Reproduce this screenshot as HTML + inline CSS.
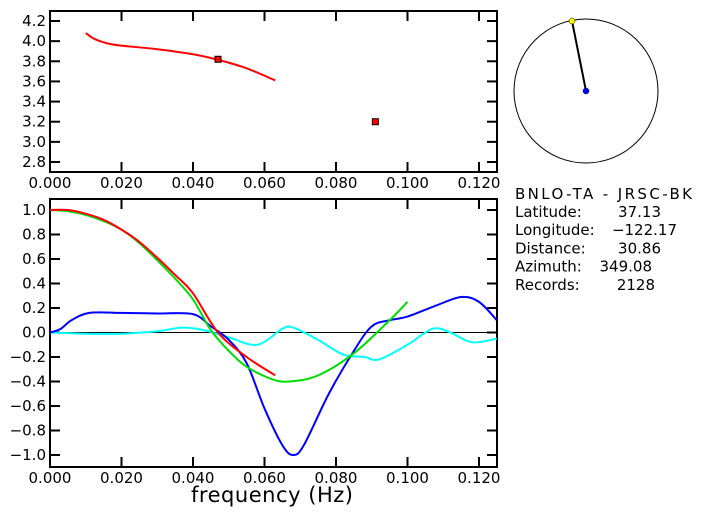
<!DOCTYPE html>
<html><head><meta charset="utf-8"><style>
body{margin:0;background:#fff;width:703px;height:519px;overflow:hidden}
svg{font-family:"DejaVu Sans","Liberation Sans",sans-serif}
</style></head><body>
<svg id="c" width="703" height="519"></svg>
<script>
const xTicks=[0,0.02,0.04,0.06,0.08,0.10,0.12];
const xTickLabels=["0.000","0.020","0.040","0.060","0.080","0.100","0.120"];
const topYTicks=[2.8,3.0,3.2,3.4,3.6,3.8,4.0,4.2];
const botYTicks=[-1.0,-0.8,-0.6,-0.4,-0.2,0.0,0.2,0.4,0.6,0.8,1.0];
const topRedX=[0.010,0.012,0.014,0.017,0.020,0.030,0.040,0.047,0.055,0.063];
const topRedY=[4.08,4.03,4.00,3.97,3.955,3.92,3.87,3.815,3.73,3.61];
const topPointsX=[0.047,0.091];
const topPointsY=[3.82,3.20];
const redX=[0,0.005,0.010,0.015,0.020,0.025,0.030,0.035,0.040,0.047,0.055,0.063];
const redY=[1.0,1.0,0.97,0.92,0.84,0.74,0.61,0.47,0.32,0.0,-0.2,-0.35];
const greenX=[0,0.005,0.010,0.015,0.020,0.025,0.030,0.035,0.040,0.045,0.050,0.055,0.062,0.067,0.075,0.085,0.095,0.100];
const greenY=[1.0,0.99,0.96,0.91,0.84,0.73,0.59,0.44,0.27,0.02,-0.15,-0.28,-0.38,-0.40,-0.35,-0.17,0.1,0.25];
const blueX=[0,0.003,0.006,0.011,0.020,0.030,0.040,0.045,0.050,0.055,0.060,0.065,0.068,0.071,0.078,0.085,0.090,0.095,0.100,0.108,0.115,0.120,0.125];
const blueY=[0,0.03,0.1,0.16,0.16,0.155,0.15,0.05,-0.06,-0.25,-0.62,-0.92,-1.0,-0.92,-0.5,-0.15,0.05,0.1,0.13,0.22,0.29,0.25,0.1];
const cyanX=[0,0.010,0.020,0.030,0.037,0.043,0.050,0.058,0.065,0.068,0.075,0.082,0.088,0.092,0.100,0.107,0.112,0.118,0.125];
const cyanY=[0,-0.01,-0.01,0.01,0.04,0.02,-0.04,-0.1,0.03,0.04,-0.06,-0.18,-0.2,-0.22,-0.1,0.03,0.0,-0.08,-0.05];
const infoLabels=["Latitude:","Longitude:","Distance:","Azimuth:","Records:"];
const infoValues=["37.13","\u2212122.17","30.86","349.08","2128"];

const NS="http://www.w3.org/2000/svg",svg=document.getElementById('c');
function el(t,a,p){const e=document.createElementNS(NS,t);for(const k in a)e.setAttribute(k,a[k]);(p||svg).appendChild(e);return e;}
const L=50,R=497;
const xs=v=>L+v/0.02*71.5;
const ysT=v=>21+(4.2-v)/1.4*141;
const ysB=v=>210+(1.0-v)*122.5;
function path(X,Y,ys){const p=X.map((x,i)=>[xs(x),ys(Y[i])]);let d="M"+p[0][0]+","+p[0][1];
for(let i=0;i<p.length-1;i++){const p0=p[i-1]||p[i],p1=p[i],p2=p[i+1],p3=p[i+2]||p2;
d+=` C${p1[0]+(p2[0]-p0[0])/6},${p1[1]+(p2[1]-p0[1])/6} ${p2[0]-(p3[0]-p1[0])/6},${p2[1]-(p3[1]-p1[1])/6} ${p2[0]},${p2[1]}`;}return d;}
function axes(top,bot,yt,ys,name,fmt){
 const g=el('g',{});
 el('rect',{x:L,y:top,width:R-L,height:bot-top,fill:'none',stroke:'#000','stroke-width':2},g);
 xTicks.forEach((t,i)=>{const x=xs(t);el('line',{x1:x,x2:x,y1:top,y2:top+10,stroke:'#000','stroke-width':2},g);el('line',{x1:x,x2:x,y1:bot,y2:bot-10,stroke:'#000','stroke-width':2},g);
  const tx=el('text',{x:x,y:bot+16,'text-anchor':'middle','font-size':15},g);tx.textContent=xTickLabels[i];});
 yt.forEach(t=>{const y=ys(t);el('line',{x1:L,x2:L+10,y1:y,y2:y,stroke:'#000','stroke-width':2},g);el('line',{x1:R,x2:R-10,y1:y,y2:y,stroke:'#000','stroke-width':2},g);
  const tx=el('text',{x:L-4,y:y+5,'text-anchor':'end','font-size':15},g);tx.textContent=fmt(t);});
 return g;}
axes(11,172,topYTicks,ysT,'top-axes',t=>t.toFixed(1));
axes(199,467,botYTicks,ysB,'bottom-axes',t=>(t<0?"\u2212":"")+Math.abs(t).toFixed(1));
let z=el('line',{x1:L,x2:R,y1:ysB(0),y2:ysB(0),stroke:'#000','stroke-width':1});

let e=el('path',{d:path(topRedX,topRedY,ysT),fill:'none',stroke:'#f00','stroke-width':2});

topPointsX.forEach((x,i)=>{const p=el('rect',{x:xs(x)-3,y:ysT(topPointsY[i])-3,width:6,height:6,fill:'#f00',stroke:'#000','stroke-width':1});
});
[[cyanX,cyanY,'#0ff','cyan-curve'],[blueX,blueY,'#00f','blue-curve'],[greenX,greenY,'#0d0','green-curve'],[redX,redY,'#f00','red-curve']].forEach(s=>{
 const p=el('path',{d:path(s[0],s[1],ysB),fill:'none',stroke:s[2],'stroke-width':2});
 });
let t=el('text',{x:272,y:502,'text-anchor':'middle','font-size':21,textLength:162});t.textContent="frequency (Hz)";

let c=el('circle',{cx:586,cy:91,r:72,fill:'none',stroke:'#000','stroke-width':1});

let ln=el('line',{x1:586,y1:91,x2:572,y2:21,stroke:'#000','stroke-width':2});

let y1=el('circle',{cx:572,cy:21,r:3,fill:'#ff0',stroke:'#000','stroke-width':0.5});

let b1=el('circle',{cx:586,cy:91,r:3,fill:'#00f',stroke:'#000','stroke-width':0.5});

let ti=el('text',{x:515,y:199,'font-size':15,textLength:177});ti.textContent="BNLO-TA  -  JRSC-BK";

const valEnds=[661,677,661,652,655];
infoLabels.forEach((lab,i)=>{const y=217+i*18.2;
 const a=el('text',{x:515,y:y,'font-size':15});a.textContent=lab;
 
 const b=el('text',{x:valEnds[i],y:y,'font-size':15,'text-anchor':'end'});b.textContent=infoValues[i];
 });
</script>
</body></html>
